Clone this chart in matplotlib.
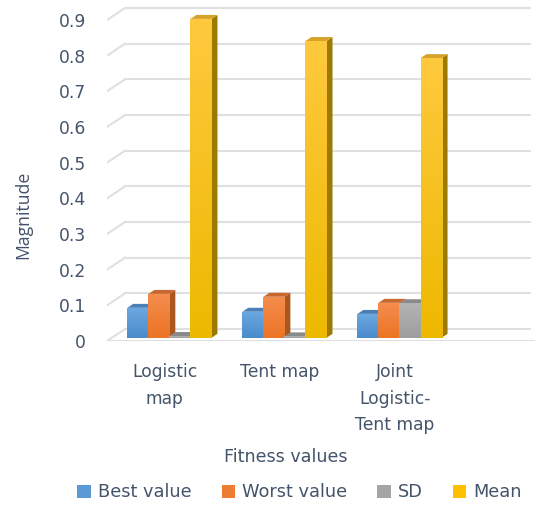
import matplotlib
matplotlib.use("Agg")
import matplotlib.pyplot as plt
from matplotlib.patches import Polygon, Patch
from matplotlib.colors import to_rgb
import numpy as np

plt.rcParams["font.family"] = ["DejaVu Sans"]

categories = ["Logistic\nmap", "Tent map", "Joint\nLogistic-\nTent map"]
series_names = ["Best value", "Worst value", "SD", "Mean"]
best = [0.084, 0.073, 0.067]
worst = [0.123, 0.115, 0.098]
sd = [0.005, 0.004, 0.097]
mean = [0.894, 0.832, 0.784]
yticks = [0, 0.1, 0.2, 0.3, 0.4, 0.5, 0.6, 0.7, 0.8, 0.9]

# front (top / bottom of gradient), lid and side shades for each series
front_hi = ["#6CA8E0", "#F48D4E", "#B3B3B3", "#FFC93E"]
front_lo = ["#4A8BCC", "#EC7424", "#9E9E9E", "#EDB900"]
legend_cols = ["#5B9BD5", "#ED7D31", "#A5A5A5", "#FFC000"]
top_cols = ["#4A80B6", "#C9682E", "#8A8A8A", "#D6A22A"]
side_cols = ["#3F6E9C", "#A9561F", "#777777", "#9C7A00"]
text_col = "#44546A"
grid_col = "#DFE0E4"

# oblique depth offset of one full floor depth, in data units
DX, DY = 0.1565, 0.0336
BAR_D0, BAR_D1 = 0.27, 0.60
bar_w = 0.183
XMAX, YMAX = 3.72, 0.956

fig = plt.figure(figsize=(5.35, 5.08), dpi=100)
ax = fig.add_axes([0.2, 0.3287, 0.8, 0.6713])
for s in ax.spines.values():
    s.set_visible(False)

# walls: side-wall diagonals and back-wall gridlines
for t in yticks:
    ax.plot([0, DX], [t, t + DY], color=grid_col, lw=1.5, zorder=1)
    ax.plot([DX, 3.68], [t + DY, t + DY], color=grid_col, lw=1.5, zorder=1)
ax.plot([0, XMAX], [0, 0], color=grid_col, lw=1.5, zorder=1)

data = [best, worst, sd, mean]
x0 = np.arange(len(categories)) + (1 - 4 * bar_w) / 2
fx, fy = BAR_D0 * DX, BAR_D0 * DY
dx, dy = (BAR_D1 - BAR_D0) * DX, (BAR_D1 - BAR_D0) * DY
ramp = np.linspace(0, 1, 64)[:, None, None]
z = 2
for g in range(len(categories)):
    for k, vals in enumerate(data):
        left = x0[g] + k * bar_w + fx
        h = vals[g]
        bar = ax.bar(left, h, width=bar_w, bottom=fy, align="edge",
                     color=legend_cols[k], lw=0, zorder=z + 1)[0]
        # vertical shading on the front face
        grad = np.array(to_rgb(front_lo[k])) * (1 - ramp) + np.array(to_rgb(front_hi[k])) * ramp
        im = ax.imshow(grad, extent=[left, left + bar_w, fy, fy + h], origin="lower",
                       aspect="auto", interpolation="bilinear", zorder=z + 1)
        im.set_clip_path(bar)
        right = left + bar_w
        top = fy + h
        side = Polygon([(right, fy), (right + dx, fy + dy), (right + dx, top + dy), (right, top)],
                       closed=True, facecolor=side_cols[k], lw=0, zorder=z)
        lid = Polygon([(left, top), (right, top), (right + dx, top + dy), (left + dx, top + dy)],
                      closed=True, facecolor=top_cols[k], lw=0, zorder=z)
        ax.add_patch(side)
        ax.add_patch(lid)
        z += 2

ax.set_xlim(0, XMAX)
ax.set_ylim(0, YMAX)
ax.set_yticks(yticks)
ax.set_yticklabels([f"{t:g}" for t in yticks], fontsize=12.3, color=text_col)
ax.set_xticks(np.arange(len(categories)) + 0.5)
ax.set_xticklabels(categories, fontsize=12.3, color=text_col, linespacing=1.6, va="top")
ax.tick_params(axis="y", length=0, pad=15)
ax.tick_params(axis="x", length=0, pad=16)

fig.text(0.043, 0.577, "Magnitude", rotation=90, fontsize=12.7, color=text_col,
         ha="center", va="center", family="Open Sans")
fig.text(0.535, 0.1, "Fitness values", fontsize=12.6, color=text_col,
         ha="center", va="center")

handles = [Patch(facecolor=c, edgecolor="none") for c in legend_cols]
fig.legend(handles, series_names, loc="center", bbox_to_anchor=(0.56, 0.031), ncol=4,
           frameon=False, fontsize=12.8, labelcolor=text_col, handlelength=0.75,
           handleheight=0.75, handletextpad=0.4, columnspacing=1.7)

fig.savefig("out.png", dpi=100)
